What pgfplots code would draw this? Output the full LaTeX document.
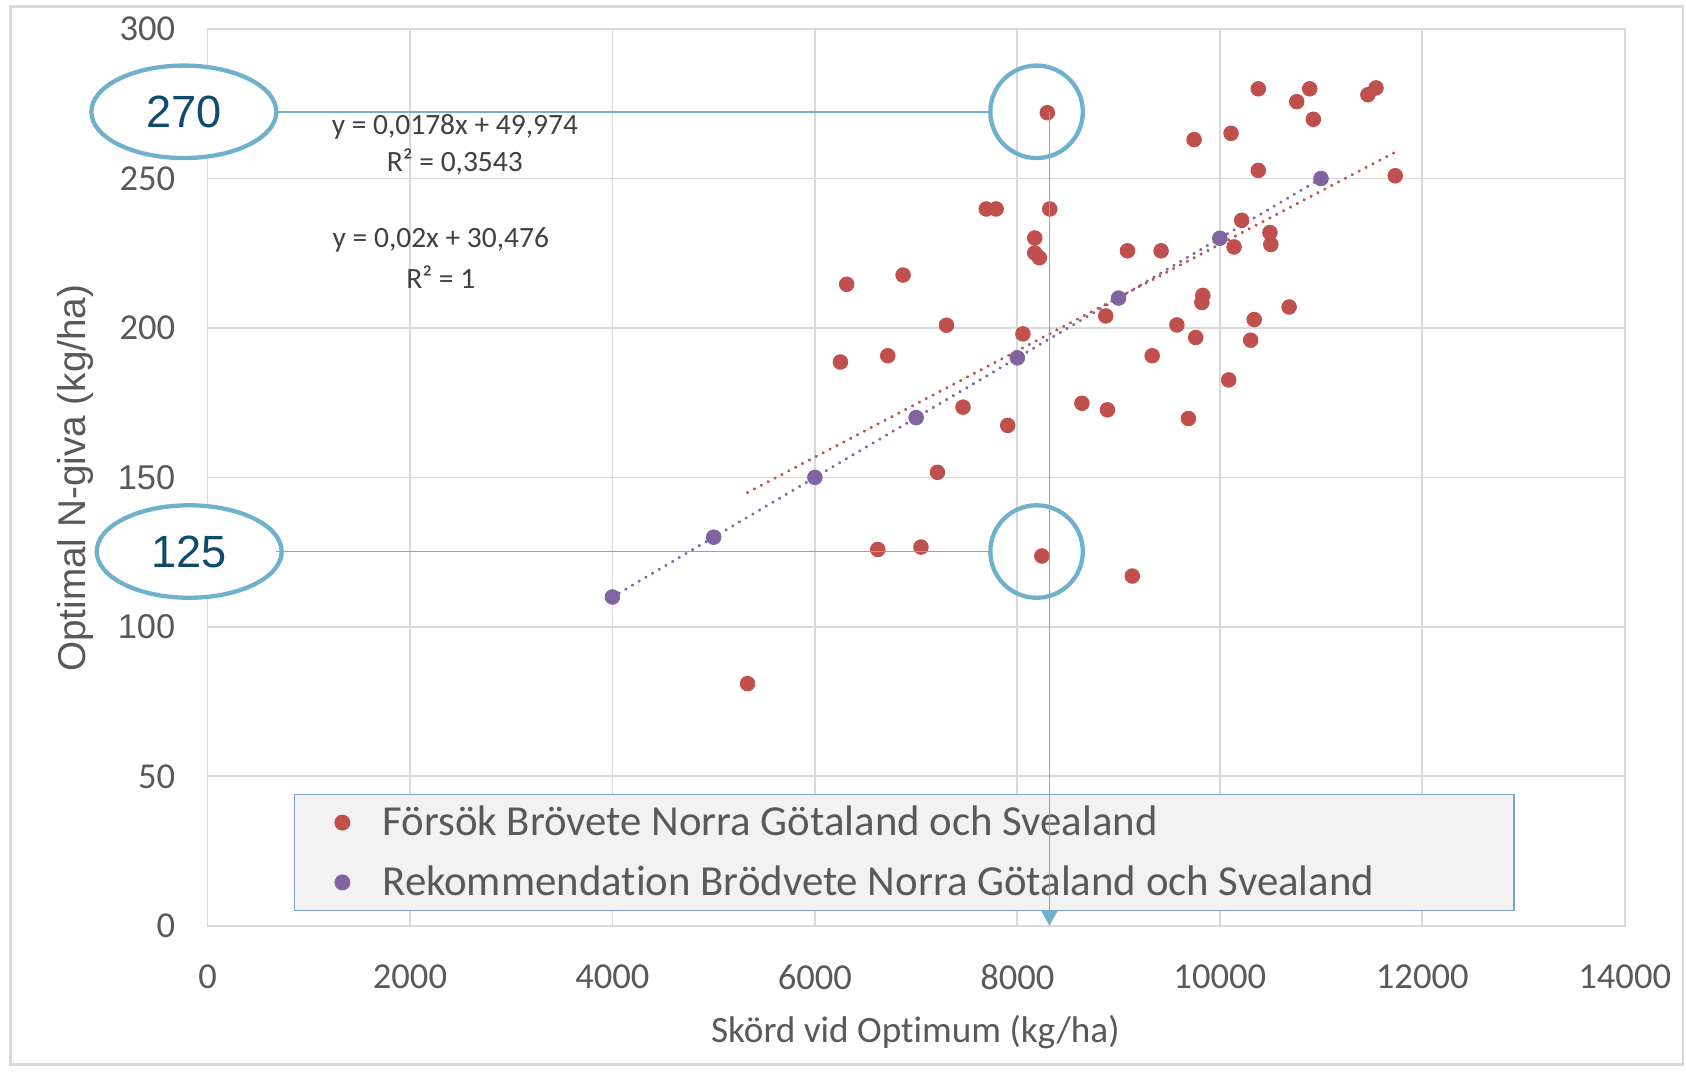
\documentclass[border=0pt]{standalone}
\usepackage{pgfplots}
\pgfplotsset{compat=1.18}
\usepackage{fontspec}
\setmainfont{Carlito}[Ligatures={NoCommon}]
\newfontfamily\arialf{Liberation Sans}
\usetikzlibrary{arrows.meta}
\definecolor{cred}{RGB}{192,80,77}
\definecolor{cpurple}{RGB}{128,100,162}
\definecolor{gridc}{RGB}{217,217,217}
\definecolor{framec}{RGB}{217,217,217}
\definecolor{tickc}{RGB}{89,89,89}
\definecolor{eqc}{RGB}{64,64,64}
\definecolor{legfill}{RGB}{242,242,242}
\definecolor{legdraw}{RGB}{125,163,204}
\definecolor{annc}{RGB}{111,177,203}
\definecolor{anntext}{RGB}{13,74,110}
\begin{document}
\begin{tikzpicture}
\useasboundingbox (-96.5pt,-69pt) rectangle (687.5pt,430.5pt);
\fill[white] (-96.5pt,-69pt) rectangle (687.5pt,430.5pt);
\draw[framec, line width=1.2pt] (-91.5pt,-64.5pt) rectangle (686pt,427.5pt);
\begin{axis}[
  at={(0pt,0pt)}, anchor=south west,
  scale only axis, width=659pt, height=417pt,
  xmin=0, xmax=14000, ymin=0, ymax=300,
  xtick={0,2000,...,14000}, ytick={0,50,...,300},
  scaled x ticks=false, scaled y ticks=false,
  xticklabels={0,2000,4000,6000,8000,10000,12000,14000},
  yticklabels={0,50,{\arialf\fontsize{16}{19}\selectfont 100},{\arialf\fontsize{16}{19}\selectfont 150},200,250,300},
  grid=major, major grid style={gridc, line width=0.8pt},
  axis line style={gridc, line width=0.8pt},
  major tick length=0pt,
  tick label style={text=tickc, font=\fontsize{17}{20}\selectfont},
  xticklabel style={yshift=-14.5pt},
  yticklabel style={xshift=-11.5pt},
  xlabel={Skörd vid Optimum (kg/ha)},
  ylabel={\arialf Optimal N-giva (kg/ha)},
  xlabel style={at={(axis description cs:0.4995,-0.118)}, anchor=center, font=\fontsize{17.3}{20}\selectfont, text=tickc},
  ylabel style={at={(axis description cs:-0.093,0.499)}, anchor=center, font=\fontsize{18}{21}\selectfont, text=tickc},
  clip=false,
  legend cell align=left,
  legend style={at={(axis cs:850,44.2)}, anchor=north west, draw=legdraw, fill=legfill, line width=0.6pt,
    font=\fontsize{19.9}{23}\selectfont, text=tickc, inner xsep=19pt, inner ysep=3.5pt, row sep=8.5pt,
    /tikz/every odd column/.append style={column sep=13.3pt}},
]
\addplot[only marks, mark=*, mark size=3.4pt, color=cred, mark options={fill=cred, draw=cred}] table {
x y
8296 272
10380 280
10888 280
10760 275.7
10924 269.8
11463 278
11543 280.3
9746 263
10111 265.1
10380 252.7
11733 250.9
7693 239.8
7790 239.8
8320 239.8
8172 230.1
8172 225.1
8217 223.5
9088 225.8
9420 225.8
10216 236.0
10495 231.9
10504 227.9
10141 227.1
6314 214.6
6871 217.7
9832 210.9
9823 208.5
10685 207.0
10340 202.8
8873 204.0
9576 201.0
9762 196.8
10305 195.9
10088 182.6
7300 200.9
8055 198.0
6252 188.6
6720 190.7
9332 190.7
8638 174.8
8890 172.6
9690 169.7
7463 173.5
7905 167.4
7211 151.7
5335 81.0
6621 125.9
7048 126.7
8242 123.7
9136 117.0
};
\addlegendentry{Försök Brövete Norra Götaland och Svealand}
\addplot[only marks, mark=*, mark size=3.4pt, color=cpurple, mark options={fill=cpurple, draw=cpurple}] table {
x y
4000 110
5000 130
6000 150
7000 170
8000 190
9000 210
10000 230
11000 250
};
\addlegendentry{Rekommendation Brödvete Norra Götaland och Svealand\hspace{44pt}\mbox{}}
% trendlines
\addplot[forget plot, cpurple, line width=1.6pt, line cap=round, dash pattern=on 0.01pt off 3.6pt] coordinates {(4000,110) (11000,250)};
\addplot[forget plot, cred, line width=1.6pt, line cap=round, dash pattern=on 0.01pt off 3.6pt] coordinates {(5335,144.94) (11737,258.89)};
% equations
\node[text=eqc, font=\fontsize{13.7}{16}\selectfont, align=center] at (axis cs:2443,261.3) {y = 0,0178x + 49,974\\[1pt]R² = 0,3543};
\node[text=eqc, font=\fontsize{13.7}{16}\selectfont, align=center] at (axis cs:2305,223.3) {y = 0,02x + 30,476\\[3pt]R² = 1};
% annotation anchor points
\coordinate (vtop) at (axis cs:8317,272.3);
\coordinate (vbot) at (axis cs:8317,0);
\end{axis}
% annotations drawn over the legend
\begin{axis}[
  at={(0pt,0pt)}, anchor=south west,
  scale only axis, width=659pt, height=417pt,
  xmin=0, xmax=14000, ymin=0, ymax=300,
  hide axis, clip=false,
]
\draw[annc, line width=2pt, fill=white] (axis cs:-234,272.3) ellipse [x radius=43pt, y radius=21.5pt];
\node[text=anntext, font=\arialf\fontsize{21}{24}\selectfont] at (axis cs:-234,272.3) {270};
\draw[annc, line width=2pt, fill=white] (axis cs:-181,125.2) ellipse [x radius=43pt, y radius=21.5pt];
\node[text=anntext, font=\arialf\fontsize{21}{24}\selectfont] at (axis cs:-181,125.2) {125};
\draw[annc, line width=2pt] (axis cs:8190,272.3) ellipse [x radius=21.5pt, y radius=21.5pt];
\draw[annc, line width=2pt] (axis cs:8190,125.2) ellipse [x radius=21.5pt, y radius=21.5pt];
\draw[annc, line width=0.8pt] (axis cs:680,272.3) -- (axis cs:7733,272.3);
\draw[annc, line width=0.8pt] (axis cs:680,125.2) -- (axis cs:7733,125.2);
\draw[annc, line width=0.8pt, -{Triangle[width=7.5pt,length=7pt]}] (axis cs:8317,272.3) -- (axis cs:8317,0);
\end{axis}
\end{tikzpicture}
\end{document}
